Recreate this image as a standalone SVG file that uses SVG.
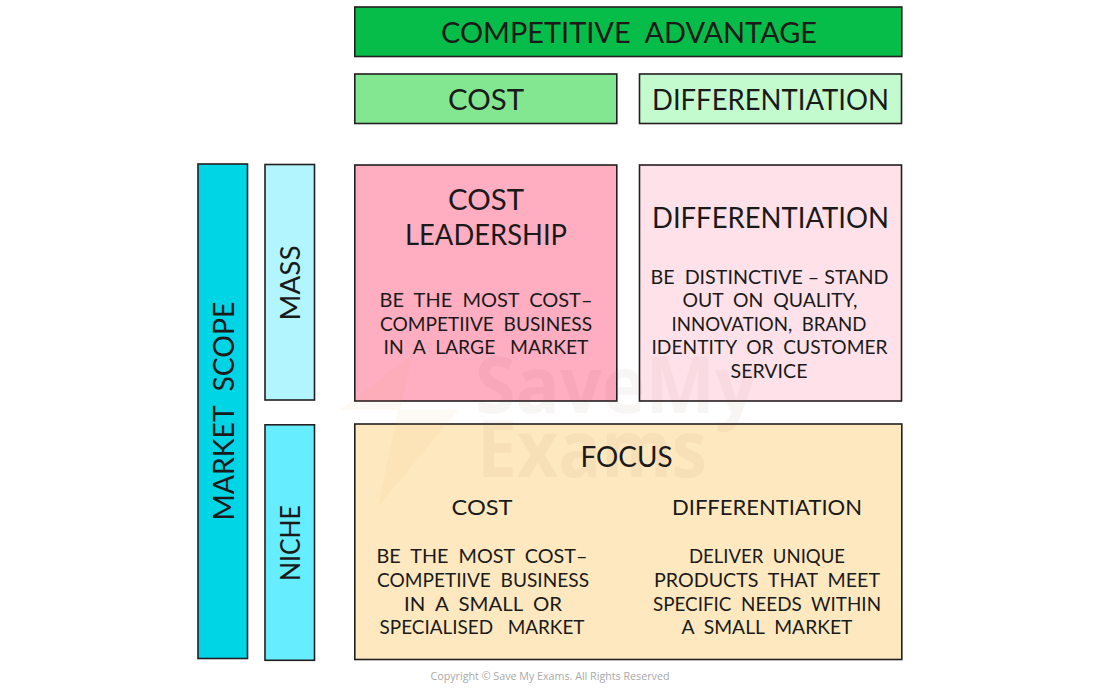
<svg xmlns="http://www.w3.org/2000/svg" width="1100" height="688" viewBox="0 0 1100 688">
<style>
.b{stroke:#231f20;stroke-width:1.6}
text{font-family:"Lato","Liberation Sans",sans-serif;fill:#1a1a1a;text-anchor:middle;white-space:pre}
.t1{font-size:29px}.t2{font-size:26px}.t3{font-size:18.5px}.t4{font-size:22px}
</style>
<rect width="1100" height="688" fill="#fff"/>
<g id="competitive-advantage"><rect class="b" x="354.800" y="7" width="547" height="49.500" fill="#07bd49"/><text class="t1" x="629" y="43" textLength="376" lengthAdjust="spacingAndGlyphs">COMPETITIVE  ADVANTAGE</text></g>
<g id="cost-header"><rect class="b" x="354.800" y="74" width="262" height="49.500" fill="#83e691"/><text class="t1" x="486" y="110" textLength="76" lengthAdjust="spacingAndGlyphs">COST</text></g>
<g id="differentiation-header"><rect class="b" x="639.500" y="74" width="262" height="49.500" fill="#c3fbcf"/><text class="t1" x="770.500" y="110" textLength="237" lengthAdjust="spacingAndGlyphs">DIFFERENTIATION</text></g>
<g id="market-scope"><rect class="b" x="198" y="164" width="49.500" height="494.500" fill="#00d5e5"/><text class="t1" transform="translate(234 411) rotate(-90)" textLength="219" lengthAdjust="spacingAndGlyphs">MARKET  SCOPE</text></g>
<g id="mass"><rect class="b" x="265" y="164.500" width="49.500" height="235.500" fill="#b2f5ff"/><text class="t2" transform="translate(300 283) rotate(-90)" textLength="75" lengthAdjust="spacingAndGlyphs">MASS</text></g>
<g id="niche"><rect class="b" x="265" y="424.800" width="49.500" height="235.500" fill="#66edff"/><text class="t2" transform="translate(300 543) rotate(-90)" textLength="76" lengthAdjust="spacingAndGlyphs">NICHE</text></g>
<g id="cost-leadership"><rect class="b" x="354.800" y="165" width="262" height="236" fill="#ffadc1"/>
<text class="t1" x="486" y="210" textLength="76" lengthAdjust="spacingAndGlyphs">COST</text>
<text class="t1" x="486" y="245" textLength="162" lengthAdjust="spacingAndGlyphs">LEADERSHIP</text>
<text class="t3" x="486" y="307" textLength="213" lengthAdjust="spacingAndGlyphs">BE  THE  MOST  COST–</text>
<text class="t3" x="486" y="331" textLength="212" lengthAdjust="spacingAndGlyphs">COMPETIIVE  BUSINESS</text>
<text class="t3" x="486" y="354" textLength="205" lengthAdjust="spacingAndGlyphs">IN  A  LARGE   MARKET</text></g>
<g id="differentiation"><rect class="b" x="639.500" y="165" width="262" height="236" fill="#ffe2e9"/>
<text class="t1" x="770.500" y="228" textLength="237" lengthAdjust="spacingAndGlyphs">DIFFERENTIATION</text>
<text class="t3" x="769.500" y="284" textLength="238" lengthAdjust="spacingAndGlyphs">BE  DISTINCTIVE – STAND</text>
<text class="t3" x="770" y="307" textLength="175" lengthAdjust="spacingAndGlyphs">OUT  ON  QUALITY,</text>
<text class="t3" x="769" y="331" textLength="195" lengthAdjust="spacingAndGlyphs">INNOVATION,  BRAND</text>
<text class="t3" x="769.500" y="354" textLength="236" lengthAdjust="spacingAndGlyphs">IDENTITY  OR  CUSTOMER</text>
<text class="t3" x="769" y="378" textLength="77" lengthAdjust="spacingAndGlyphs">SERVICE</text></g>
<g id="focus"><rect class="b" x="354.800" y="424" width="547" height="235.500" fill="#fee8bf"/>
<text class="t1" x="626.500" y="467" textLength="92" lengthAdjust="spacingAndGlyphs">FOCUS</text>
<text class="t4" x="482" y="515" textLength="61" lengthAdjust="spacingAndGlyphs">COST</text>
<text class="t4" x="767" y="515" textLength="190" lengthAdjust="spacingAndGlyphs">DIFFERENTIATION</text>
<text class="t3" x="482" y="563" textLength="211" lengthAdjust="spacingAndGlyphs">BE  THE  MOST  COST–</text>
<text class="t3" x="483" y="587" textLength="212" lengthAdjust="spacingAndGlyphs">COMPETIIVE  BUSINESS</text>
<text class="t3" x="483" y="611" textLength="158" lengthAdjust="spacingAndGlyphs">IN  A  SMALL  OR</text>
<text class="t3" x="482" y="634" textLength="205" lengthAdjust="spacingAndGlyphs">SPECIALISED   MARKET</text>
<text class="t3" x="767" y="563" textLength="156" lengthAdjust="spacingAndGlyphs">DELIVER  UNIQUE</text>
<text class="t3" x="767" y="587" textLength="226" lengthAdjust="spacingAndGlyphs">PRODUCTS  THAT  MEET</text>
<text class="t3" x="767" y="611" textLength="228" lengthAdjust="spacingAndGlyphs">SPECIFIC  NEEDS  WITHIN</text>
<text class="t3" x="767" y="634" textLength="171" lengthAdjust="spacingAndGlyphs">A  SMALL  MARKET</text></g>
<g id="watermark" opacity="0.045">
<path d="M412 355L340 410H398L378 507L458 410H400Z" fill="#e8a33a"/>
<text x="616" y="413" style="font-family:'Open Sans','Liberation Sans',sans-serif;font-weight:700;font-size:79px;fill:#7a3b3b" textLength="282" lengthAdjust="spacingAndGlyphs">SaveMy</text>
<text x="592" y="477" style="font-family:'Open Sans','Liberation Sans',sans-serif;font-weight:700;font-size:79px;fill:#7a3b3b" textLength="230" lengthAdjust="spacingAndGlyphs">Exams</text>
</g>
<text id="copyright" x="550" y="680" style="font-family:'Open Sans','Liberation Sans',sans-serif;font-size:11.500px;fill:#a8a8a8" textLength="239" lengthAdjust="spacingAndGlyphs">Copyright © Save My Exams. All Rights Reserved</text>
</svg>
